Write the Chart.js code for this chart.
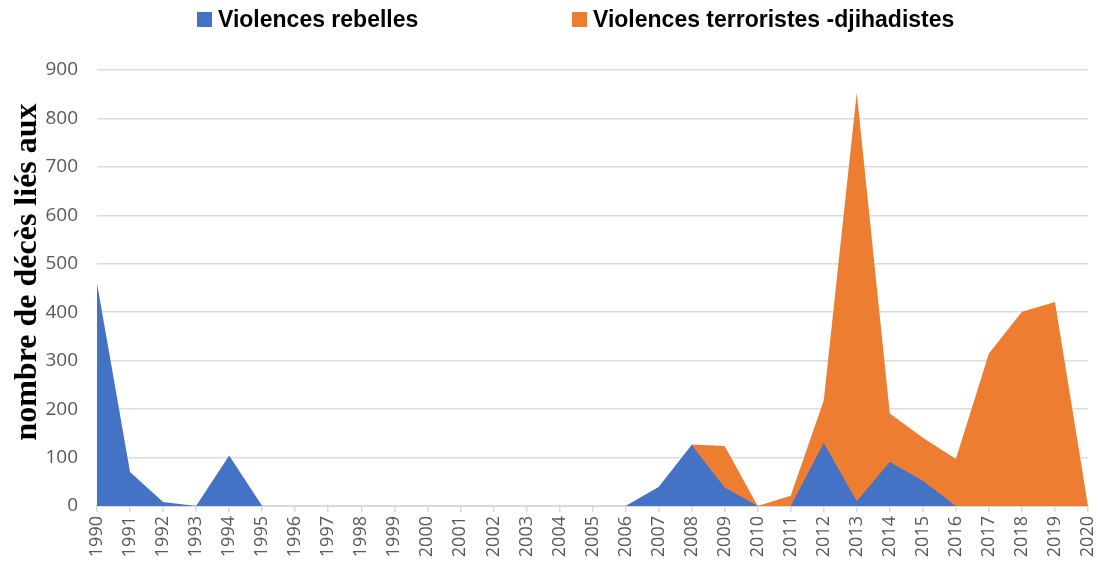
<!DOCTYPE html>
<html>
<head>
<meta charset="utf-8">
<script src="https://cdn.jsdelivr.net/npm/chart.js@4"></script>
<style>
  html, body { margin: 0; padding: 0; background: #fff; }
  #wrap { position: relative; width: 1102px; height: 572px; }
  #chart { position: absolute; left: 0; top: 0; }
  .leg { position: absolute; top: 4px; font: bold 23px "Liberation Sans", Arial, sans-serif; color: #000; white-space: nowrap; line-height: 30px; }
  .leg i { display: inline-block; width: 15px; height: 15px; margin-right: 6px; vertical-align: 0px; }
</style>
</head>
<body>
<div id="wrap">
  <canvas id="chart" width="1102" height="572"></canvas>
  <div class="leg" style="left:197px"><i style="background:#4472C4"></i><span>Violences rebelles</span></div>
  <div class="leg" style="left:572px"><i style="background:#ED7D31"></i><span>Violences terroristes -djihadistes</span></div>
</div>
<script>
const years = ['1990','1991','1992','1993','1994','1995','1996','1997','1998','1999','2000',
  '2001','2002','2003','2004','2005','2006','2007','2008','2009','2010',
  '2011','2012','2013','2014','2015','2016','2017','2018','2019','2020'];

const rebelles = [460, 70, 8, 0, 104, 0, 0, 0, 0, 0, 0,
  0, 0, 0, 0, 0, 0, 39, 126, 38, 0,
  0, 130, 10, 91, 52, 0, 0, 0, 0, 0];

const djihadistes = [0, 0, 0, 0, 0, 0, 0, 0, 0, 0, 0,
  0, 0, 0, 0, 0, 0, 0, 127, 124, 0,
  21, 218, 853, 191, 141, 97, 315, 401, 421, 0];

const yTicks = [0, 100, 200, 300, 400, 500, 600, 700, 800, 900];

const yTitle = 'nombre de décès liés aux';

// y axis title drawn by hand so it can sit where the original puts it
const yTitlePlugin = {
  id: 'yTitle',
  afterDraw(chart) {
    const ctx = chart.ctx;
    ctx.save();
    ctx.translate(36, 272);
    ctx.rotate(-Math.PI / 2);
    ctx.font = 'bold 32px "Liberation Serif", "Times New Roman", serif';
    ctx.fillStyle = '#000';
    ctx.textAlign = 'center';
    ctx.textBaseline = 'alphabetic';
    ctx.fillText(yTitle, 0, 0);
    ctx.restore();
  }
};

const ctx = document.getElementById('chart').getContext('2d');
new Chart(ctx, {
  type: 'line',
  data: {
    labels: years,
    datasets: [
      {
        label: 'Violences rebelles',
        data: rebelles,
        backgroundColor: '#4472C4',
        borderColor: '#4472C4',
        borderWidth: 0,
        pointRadius: 0,
        fill: 'origin',
        tension: 0
      },
      {
        label: 'Violences terroristes -djihadistes',
        data: djihadistes,
        backgroundColor: '#ED7D31',
        borderColor: '#ED7D31',
        borderWidth: 0,
        pointRadius: 0,
        fill: 'origin',
        tension: 0
      }
    ]
  },
  options: {
    responsive: false,
    animation: false,
    layout: { padding: { top: 70, right: 14, left: 0, bottom: 0 } },
    plugins: {
      legend: { display: false },
      tooltip: { enabled: false }
    },
    scales: {
      x: {
        grid: { display: true, drawOnChartArea: false, drawTicks: true, tickLength: 6, color: '#d9d9d9', lineWidth: 1.5 },
        border: { display: true, color: '#d9d9d9', width: 2 },
        ticks: {
          color: '#595959',
          font: { family: '"Open Sans", Arial, sans-serif', size: 18 },
          minRotation: 90,
          maxRotation: 90,
          autoSkip: false,
          padding: 4
        },
        afterFit(s) { s.height = 66; s.paddingLeft = 0; s.paddingRight = 0; }
      },
      y: {
        min: 0,
        max: 900,
        afterBuildTicks(s) { s.ticks = yTicks.map(v => ({ value: v })); },
        grid: { color: '#dcdcdc', lineWidth: 1.5, drawTicks: false },
        border: { display: false },
        ticks: {
          color: '#595959',
          font: { family: '"Open Sans", Arial, sans-serif', size: 19 },
          padding: 19
        },
        afterFit(s) { s.width = 97; s.paddingTop = 0; s.paddingBottom = 0; }
      }
    }
  },
  plugins: [yTitlePlugin]
});
</script>
</body>
</html>
